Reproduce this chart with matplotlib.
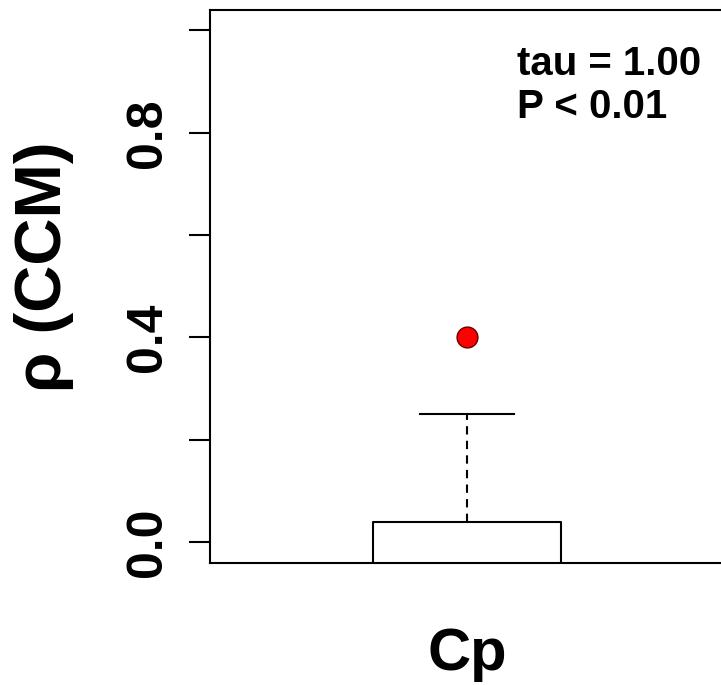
import matplotlib
matplotlib.use("Agg")
import matplotlib.pyplot as plt

# box statistics for the single group (lower part falls below the axis)
group = "Cp"
q1 = -0.10
med = -0.06
q3 = 0.04
whislo = -0.15
whishi = 0.25
fliers = [0.40]
yticks = [0.0, 0.2, 0.4, 0.6, 0.8, 1.0]
ytick_labels = ["0.0", "", "0.4", "", "0.8", ""]
note_lines = ["tau = 1.00", "P < 0.01"]

plt.rcParams['font.family'] = ['Liberation Sans', 'DejaVu Sans']
plt.rcParams['font.weight'] = 'bold'

fig = plt.figure(figsize=(7.21, 6.85), dpi=100)
ax = fig.add_axes([210/721, (685-562.5)/685, (724-210)/721, (562.5-10)/685])

stats = [dict(med=med, q1=q1, q3=q3, whislo=whislo, whishi=whishi, fliers=fliers)]
ax.bxp(stats, positions=[1], widths=0.4, capwidths=0.2,
       boxprops=dict(color='black', lw=1.5),
       medianprops=dict(color='black', lw=4),
       whiskerprops=dict(color='black', lw=1.5, linestyle=(0, (4, 3))),
       capprops=dict(color='black', lw=1.5),
       flierprops=dict(marker='o', markerfacecolor='#ff0000', markeredgecolor='#660000',
                       markersize=15, markeredgewidth=1))

ax.set_xlim(0.453, 1.547)
ax.set_ylim(-0.04, 1.04)
ax.set_xticks([])
ax.set_yticks(yticks)
ax.set_yticklabels(ytick_labels, rotation=90, va='center', fontsize=36, fontweight='bold')
ax.tick_params(axis='y', length=15, width=1.5, pad=13)
for s in ax.spines.values():
    s.set_linewidth(1.5)

ax.set_ylabel("ρ (CCM)", fontsize=47, fontweight='bold', ha='center', va='top')
ax.yaxis.set_label_coords((14-210)/514, (562.5-267)/552.5)
ax.set_xlabel(group, fontsize=43, fontweight='bold', va='baseline')
ax.xaxis.set_label_coords(0.5, (562.5-670)/552.5)

ax.text(0.597, 0.882, note_lines[0], transform=ax.transAxes, fontsize=29,
        fontweight='bold', va='baseline', ha='left')
ax.text(0.597, 0.804, note_lines[1], transform=ax.transAxes, fontsize=29,
        fontweight='bold', va='baseline', ha='left')

fig.savefig("out.png", dpi=100)
